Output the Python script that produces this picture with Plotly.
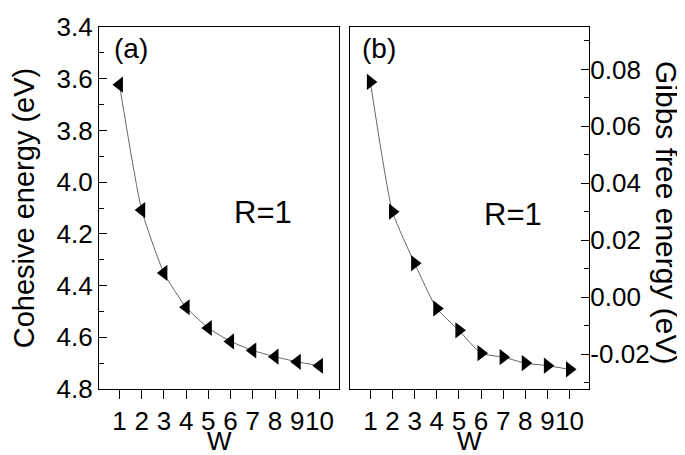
import plotly.graph_objects as go

W = [1, 2, 3, 4, 5, 6, 7, 8, 9, 10]
cohesive = [3.623, 4.108, 4.351, 4.484, 4.564, 4.616, 4.651, 4.675, 4.695, 4.710]
gibbs = [0.0756, 0.0300, 0.0119, -0.0040, -0.0117, -0.0197, -0.0211, -0.0232, -0.0241, -0.0254]

left_ticks = [3.4, 3.6, 3.8, 4.0, 4.2, 4.4, 4.6, 4.8]
left_ticktext = ["3.4", "3.6", "3.8", "4.0", "4.2", "4.4", "4.6", "4.8"]
right_ticks = [-0.02, 0.0, 0.02, 0.04, 0.06, 0.08]
right_ticktext = ["-0.02", "0.00", "0.02", "0.04", "0.06", "0.08"]
x_ticks = W
x_ticktext = [str(v) for v in W]

FW, FH = 685, 455
FONT = "Liberation Sans, Arial, sans-serif"


def px_x(p):
    return p / FW


def px_y(p):
    return 1 - p / FH


fig = go.Figure()
fig.add_trace(go.Scatter(
    x=W, y=cohesive, xaxis="x", yaxis="y", mode="lines+markers",
    line=dict(color="#555555", width=0.9, shape="spline", smoothing=0.5),
    marker=dict(symbol="triangle-left", size=14, color="black"),
    showlegend=False,
))
fig.add_trace(go.Scatter(
    x=W, y=gibbs, xaxis="x2", yaxis="y2", mode="lines+markers",
    line=dict(color="#555555", width=0.9, shape="spline", smoothing=0.5),
    marker=dict(symbol="triangle-right", size=14, color="black"),
    showlegend=False,
))

xcommon = dict(
    range=[0.08, 10.88], tickmode="array", tickvals=x_ticks, ticktext=x_ticktext,
    tickangle=0,
    ticks="outside", ticklen=9, tickwidth=1.2, tickcolor="black",
    showline=True, linecolor="black", linewidth=1.3, mirror=True,
    showgrid=False, zeroline=False,
    tickfont=dict(family=FONT, size=26, color="black"),
    automargin=False,
)

fig.update_layout(
    width=FW, height=FH,
    margin=dict(l=0, r=0, t=0, b=0),
    paper_bgcolor="white", plot_bgcolor="white",
    font=dict(family=FONT, color="black"),
    xaxis=dict(domain=[px_x(91), px_x(331)], anchor="y", **xcommon),
    xaxis2=dict(domain=[px_x(342), px_x(581)], anchor="y2", **xcommon),
    yaxis=dict(
        domain=[px_y(381), px_y(19)], anchor="x",
        range=[4.8, 3.4],
        tickmode="array", tickvals=left_ticks, ticktext=left_ticktext,
        ticks="inside", ticklen=8, tickwidth=1.2, tickcolor="black",
        minor=dict(ticks="inside", ticklen=5, tickwidth=1.2, tickcolor="black",
                   tickvals=[3.5, 3.7, 3.9, 4.1, 4.3, 4.5, 4.7]),
        showline=True, linecolor="black", linewidth=1.3, mirror=True,
        showgrid=False, zeroline=False,
        tickfont=dict(family=FONT, size=26, color="black"),
        title=dict(text="Cohesive energy (eV)", font=dict(family=FONT, size=29), standoff=26),
        automargin=False,
    ),
    yaxis2=dict(
        domain=[px_y(381), px_y(19)], anchor="x2", side="right",
        range=[-0.0323, 0.0949],
        tickmode="array", tickvals=right_ticks, ticktext=right_ticktext,
        ticks="inside", ticklen=8, tickwidth=1.2, tickcolor="black",
        ticklabelstandoff=-5,
        minor=dict(ticks="inside", ticklen=5, tickwidth=1.2, tickcolor="black",
                   tickvals=[-0.03, -0.01, 0.01, 0.03, 0.05, 0.07, 0.09]),
        showline=True, linecolor="black", linewidth=1.3, mirror=True,
        showgrid=False, zeroline=False,
        tickfont=dict(family=FONT, size=26, color="black"),
        automargin=False,
    ),
    annotations=[
        dict(text="W", xref="paper", yref="paper", x=px_x(211), y=px_y(433),
             showarrow=False, font=dict(family=FONT, size=26, color="black"),
             xanchor="center", yanchor="middle", borderpad=0),
        dict(text="W", xref="paper", yref="paper", x=px_x(461.5), y=px_y(433),
             showarrow=False, font=dict(family=FONT, size=26, color="black"),
             xanchor="center", yanchor="middle", borderpad=0),
        dict(text="Gibbs free energy (eV)", xref="paper", yref="paper",
             x=px_x(658), y=px_y(204), textangle=90, showarrow=False,
             font=dict(family=FONT, size=30, color="black"),
             xanchor="center", yanchor="middle"),
        dict(text="(a)", xref="paper", yref="paper", x=px_x(123), y=px_y(40),
             showarrow=False, font=dict(family=FONT, size=28, color="black"),
             xanchor="center", yanchor="middle"),
        dict(text="(b)", xref="paper", yref="paper", x=px_x(371), y=px_y(40),
             showarrow=False, font=dict(family=FONT, size=28, color="black"),
             xanchor="center", yanchor="middle"),
        dict(text="R=1", xref="paper", yref="paper", x=px_x(255), y=px_y(205),
             showarrow=False, font=dict(family=FONT, size=31, color="black"),
             xanchor="center", yanchor="middle"),
        dict(text="R=1", xref="paper", yref="paper", x=px_x(505), y=px_y(207),
             showarrow=False, font=dict(family=FONT, size=31, color="black"),
             xanchor="center", yanchor="middle"),
    ],
)

fig.write_html("out.html")
